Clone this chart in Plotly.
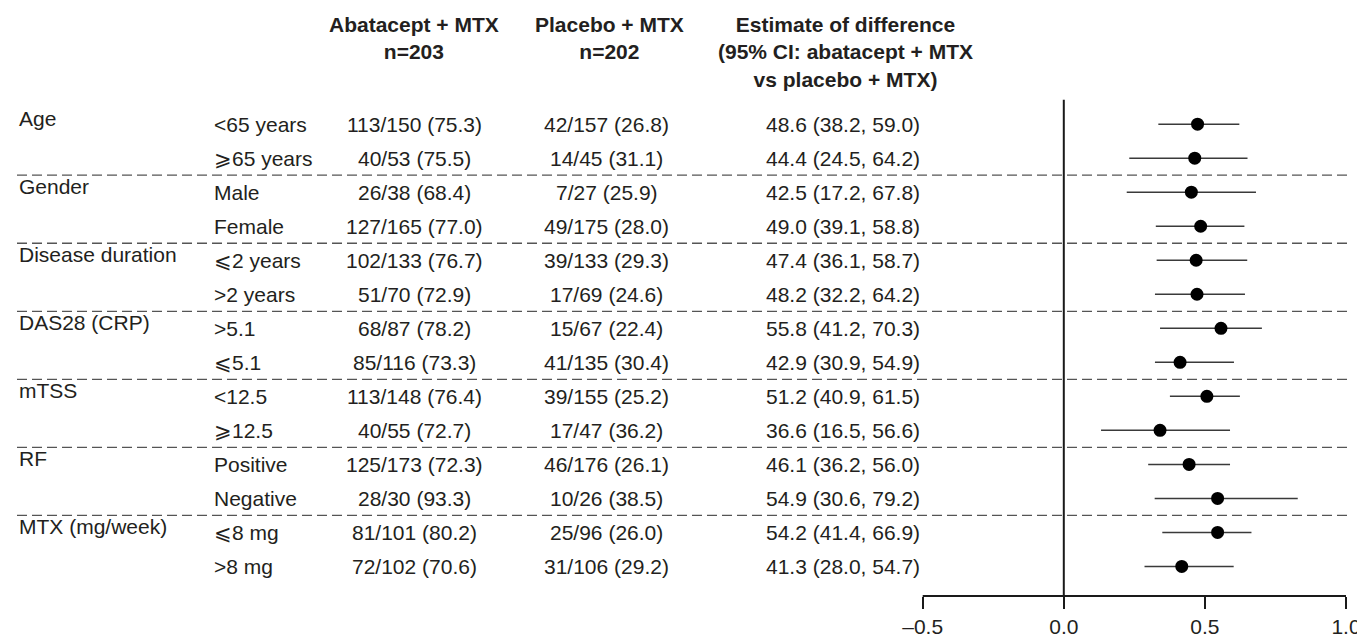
import plotly.graph_objects as go

# ---------------- data ----------------
groups = ["Age", "Gender", "Disease duration", "DAS28 (CRP)", "mTSS", "RF", "MTX (mg/week)"]
subgroups = ["<65 years", "⩾65 years", "Male", "Female", "⩽2 years", ">2 years",
             ">5.1", "⩽5.1", "<12.5", "⩾12.5", "Positive", "Negative", "⩽8 mg", ">8 mg"]
abatacept_resp = ["113/150 (75.3)", "40/53 (75.5)", "26/38 (68.4)", "127/165 (77.0)",
                  "102/133 (76.7)", "51/70 (72.9)", "68/87 (78.2)", "85/116 (73.3)",
                  "113/148 (76.4)", "40/55 (72.7)", "125/173 (72.3)", "28/30 (93.3)",
                  "81/101 (80.2)", "72/102 (70.6)"]
placebo_resp = ["42/157 (26.8)", "14/45 (31.1)", "7/27 (25.9)", "49/175 (28.0)",
                "39/133 (29.3)", "17/69 (24.6)", "15/67 (22.4)", "41/135 (30.4)",
                "39/155 (25.2)", "17/47 (36.2)", "46/176 (26.1)", "10/26 (38.5)",
                "25/96 (26.0)", "31/106 (29.2)"]
est_text = [48.6, 44.4, 42.5, 49.0, 47.4, 48.2, 55.8, 42.9, 51.2, 36.6, 46.1, 54.9, 54.2, 41.3]
lo_text = [38.2, 24.5, 17.2, 39.1, 36.1, 32.2, 41.2, 30.9, 40.9, 16.5, 36.2, 30.6, 41.4, 28.0]
hi_text = [59.0, 64.2, 67.8, 58.8, 58.7, 64.2, 70.3, 54.9, 61.5, 56.6, 56.0, 79.2, 66.9, 54.7]

# positions of the plotted markers / CI whiskers as drawn on the axis
plot_est = [0.474, 0.464, 0.452, 0.485, 0.469, 0.472, 0.557, 0.412, 0.507, 0.341, 0.444, 0.545, 0.545, 0.418]
plot_lo = [0.335, 0.232, 0.223, 0.326, 0.329, 0.323, 0.341, 0.323, 0.376, 0.132, 0.299, 0.322, 0.349, 0.286]
plot_hi = [0.622, 0.651, 0.681, 0.640, 0.650, 0.642, 0.702, 0.603, 0.624, 0.589, 0.589, 0.829, 0.665, 0.602]

headers = ["Abatacept + MTX<br>n=203", "Placebo + MTX<br>n=202",
           "Estimate of difference<br>(95% CI: abatacept + MTX<br>vs placebo + MTX)"]
tick_vals = [-0.5, 0.0, 0.5, 1.0]
tick_text = ["–0.5", "0.0", "0.5", "1.0"]

# ---------------- layout helpers ----------------
OFF = 8                      # page body margin in the browser
W, H = 1365 - OFF, 638 - OFF
AXIS_Y = 601.7               # page pixel of the x axis line
BOTTOM = AXIS_Y - OFF        # figure pixel of the x axis line
FONT = "Liberation Sans, Arial, Helvetica, sans-serif"
TXT = "#231f20"
FS = 21
rows = list(range(len(subgroups)))
ROW0, ROWH = 125.3, 34.35    # page pixel of first row, row pitch
y_top = -(ROW0 - OFF) / ROWH
y_bot = (AXIS_Y - ROW0) / ROWH
PXU = 282.2                  # pixels per unit on x
x_lo = -0.5 - (922.7 - OFF) / PXU
x_hi = 1.0 + (1365 - 1346) / PXU


def px(p):
    return (p - OFF) / W


def py(p):
    return (AXIS_Y - p) / BOTTOM


fig = go.Figure()
fig.add_trace(go.Scatter(
    x=plot_est, y=rows, mode="markers",
    marker=dict(size=13, color="#000000"),
    error_x=dict(type="data", symmetric=False,
                 array=[h - e for h, e in zip(plot_hi, plot_est)],
                 arrayminus=[e - l for e, l in zip(plot_est, plot_lo)],
                 width=0, thickness=1.5, color="#3a3a3a"),
    hoverinfo="skip", showlegend=False))

ann = []
font = dict(family=FONT, size=FS, color=TXT)
for i, g in enumerate(groups):
    ann.append(dict(x=px(17), y=2 * i, xref="paper", yref="y", text=g, showarrow=False,
                    xanchor="left", yanchor="middle", yshift=6, font=font))
for r in rows:
    ann.append(dict(x=px(212), y=r, xref="paper", yref="y", text=subgroups[r], showarrow=False,
                    xanchor="left", yanchor="middle", font=font))
    ann.append(dict(x=px(414), y=r, xref="paper", yref="y", text=abatacept_resp[r], showarrow=False,
                    xanchor="center", yanchor="middle", font=font))
    ann.append(dict(x=px(606.5), y=r, xref="paper", yref="y", text=placebo_resp[r], showarrow=False,
                    xanchor="center", yanchor="middle", font=font))
    ann.append(dict(x=px(843), y=r, xref="paper", yref="y",
                    text=f"{est_text[r]:.1f} ({lo_text[r]:.1f}, {hi_text[r]:.1f})", showarrow=False,
                    xanchor="center", yanchor="middle", font=font))
for cx, h in zip([414, 609, 845], headers):
    ann.append(dict(x=px(cx), y=py(11), xref="paper", yref="paper", text=f"<b>{h}</b>",
                    showarrow=False, xanchor="center", yanchor="top", align="center", font=font))

shapes = []
# dashed group separators
for i in range(len(groups) - 1):
    yy = 2 * i + 1.5
    shapes.append(dict(type="line", xref="paper", yref="y", x0=px(17), x1=px(1348), y0=yy, y1=yy,
                       line=dict(color="#555555", width=1.3, dash="10px,5px"), layer="below"))
# zero reference line
shapes.append(dict(type="line", xref="x", yref="y", x0=0, x1=0, y0=(100.7 - ROW0) / ROWH, y1=y_bot,
                   line=dict(color="#1a1a1a", width=2)))
# axis line limited to tick range
shapes.append(dict(type="line", xref="x", yref="paper", x0=tick_vals[0], x1=tick_vals[-1], y0=0, y1=0,
                   line=dict(color="#1a1a1a", width=2)))

fig.update_layout(
    width=W, height=H, margin=dict(l=0, r=0, t=0, b=H - BOTTOM),
    paper_bgcolor="white", plot_bgcolor="white",
    annotations=ann, shapes=shapes, showlegend=False,
    xaxis=dict(range=[x_lo, x_hi], showgrid=False, zeroline=False, showline=False,
               tickvals=tick_vals, ticktext=tick_text, ticks="outside", ticklen=12, tickwidth=2,
               tickcolor="#1a1a1a", tickfont=dict(family=FONT, size=FS, color=TXT), fixedrange=True),
    yaxis=dict(range=[y_bot, y_top], showgrid=False, zeroline=False, showline=False,
               showticklabels=False, ticks="", fixedrange=True),
)

fig.write_html("out.html")
